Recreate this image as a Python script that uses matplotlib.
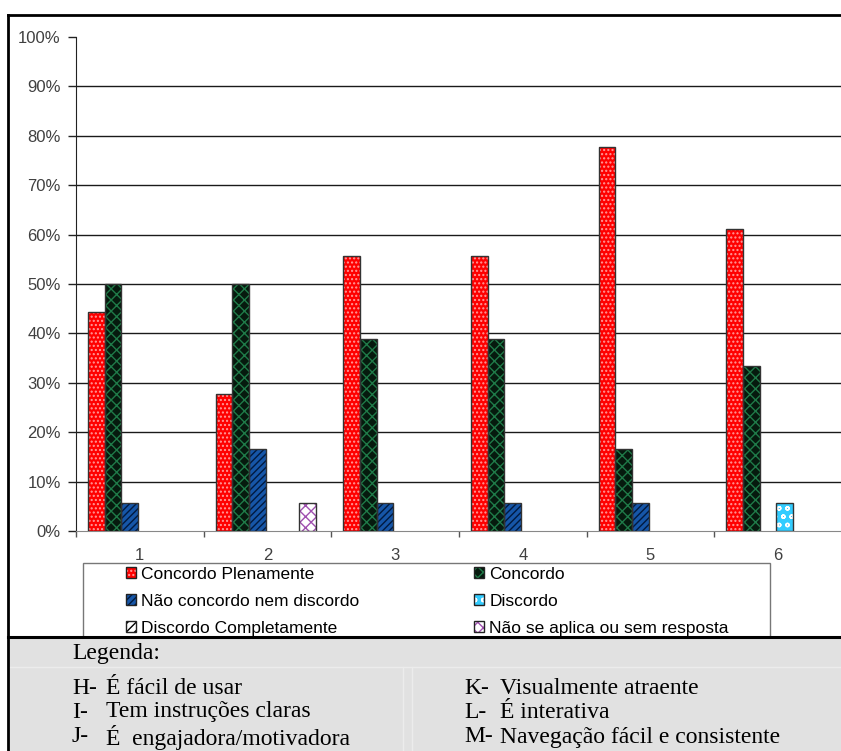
import matplotlib
matplotlib.use("Agg")
import matplotlib.pyplot as plt
from matplotlib.patches import Patch, Rectangle
from matplotlib.lines import Line2D
import numpy as np

# categories on the x axis
categorias = ["1", "2", "3", "4", "5", "6"]

# percent of answers per category
concordo_plenamente = [44.4, 27.8, 55.6, 55.6, 77.8, 61.1]
concordo = [50.0, 50.0, 38.9, 38.9, 16.7, 33.3]
nao_concordo_nem_discordo = [5.6, 16.7, 5.6, 5.6, 5.6, 0.0]
discordo = [0.0, 0.0, 0.0, 0.0, 0.0, 5.6]
discordo_completamente = [0.0, 0.0, 0.0, 0.0, 0.0, 0.0]
nao_se_aplica = [0.0, 5.6, 0.0, 0.0, 0.0, 0.0]

series_nomes = ["Concordo Plenamente", "Concordo", "Não concordo nem discordo",
                "Discordo", "Discordo Completamente", "Não se aplica ou sem resposta"]
series = [concordo_plenamente, concordo, nao_concordo_nem_discordo,
          discordo, discordo_completamente, nao_se_aplica]

yticks = [0, 10, 20, 30, 40, 50, 60, 70, 80, 90, 100]

legenda_esq = [("H-", "É fácil de usar"), ("I-", "Tem instruções claras"),
               ("J-", "É  engajadora/motivadora")]
legenda_dir = [("K-", "Visualmente atraente"), ("L-", "É interativa"),
               ("M-", "Navegação fácil e consistente")]

# face colour, hatch, hatch colour
estilos = [
    ("#ff0000", "....", "#ff9a9a"),
    ("#061a0e", "xxx", "#1f7a48"),
    ("#1656a8", "/////", "#001a40"),
    ("#33ccff", "oo", "#ffffff"),
    ("#ffffff", "////", "#000000"),
    ("#ffffff", "xxx", "#a050b0"),
]

plt.rcParams["font.family"] = ["Liberation Sans", "DejaVu Sans"]
plt.rcParams["hatch.linewidth"] = 1.0

W, H = 841, 751
fig = plt.figure(figsize=(W / 100, H / 100), dpi=100)
fig.patch.set_facecolor("white")

def fx(px):
    return px / W

def fy(py):
    return 1 - py / H

ax = fig.add_axes([fx(76), fy(531), 766 / W, 494 / H])

x = np.arange(len(categorias))
bw = 0.1308
start = -0.5 + 12 / 127.7
handles = []
for i, (vals, nome) in enumerate(zip(series, series_nomes)):
    face, hatch, hcol = estilos[i]
    pos = x + start + i * bw
    ax.bar(pos, vals, width=bw, align="edge", color=face, edgecolor=hcol,
           hatch=hatch, linewidth=0, zorder=3)
    lw = [1.0 if v > 0 else 0 for v in vals]
    ax.bar(pos, vals, width=bw, align="edge", fill=False, edgecolor="#333333",
           linewidth=lw, zorder=4)
    p1 = Patch(facecolor=face, edgecolor=hcol, hatch=hatch, linewidth=0)
    p2 = Patch(facecolor="none", edgecolor="#222222", linewidth=1)
    handles.append((p1, p2))

ax.set_xlim(-0.5, 5.5)
ax.set_ylim(0, 100)
for v in yticks[1:-1]:
    ax.axhline(v, color="#1a1a1a", linewidth=1, zorder=1)

ax.set_yticks(yticks)
ax.set_yticklabels(["%d%%" % v for v in yticks])
ax.set_xticks(np.arange(-0.5, 6, 1))
ax.set_xticklabels([])
ax.set_xticks(x, minor=True)
ax.set_xticklabels(categorias, minor=True)
ax.tick_params(axis="y", direction="out", length=6, width=1, pad=5,
               labelsize=12, labelcolor="#404040", color="#222222")
ax.tick_params(axis="x", which="major", direction="out", length=4, width=1,
               color="#555555")
ax.tick_params(axis="x", which="minor", length=0, pad=12, labelsize=12,
               labelcolor="#404040")
for s in ["top", "right"]:
    ax.spines[s].set_visible(False)
ax.spines["left"].set_color("#222222")
ax.spines["bottom"].set_color("#888888")

# legend box
fig.add_artist(Rectangle((fx(83), fy(660)), fx(770) - fx(83), fy(563) - fy(660),
                         transform=fig.transFigure, facecolor="white",
                         edgecolor="#777777", linewidth=1, zorder=4))
order = [0, 2, 4, 1, 3, 5]
leg = fig.legend([handles[k] for k in order], [series_nomes[k] for k in order],
                 ncol=2, loc="upper left", bbox_to_anchor=(fx(126), fy(567)),
                 frameon=False, fontsize=12.5, handlelength=0.58,
                 handleheight=0.58, handletextpad=0.3, labelspacing=0.68,
                 columnspacing=6.6, borderpad=0, borderaxespad=0)
leg.set_zorder(5)

# outer frame
fig.add_artist(Line2D([fx(8), fx(8)], [fy(15), 0], transform=fig.transFigure,
                      color="black", linewidth=2, zorder=20))
fig.add_artist(Line2D([fx(8), 1], [fy(15), fy(15)], transform=fig.transFigure,
                      color="black", linewidth=2, zorder=20))

# grey caption area
fig.add_artist(Rectangle((fx(8), 0), 1 - fx(8), fy(637), transform=fig.transFigure,
                         facecolor="#e1e1e1", edgecolor="none", zorder=10))
fig.add_artist(Line2D([fx(8), 1], [fy(637), fy(637)], transform=fig.transFigure,
                      color="black", linewidth=2.2, zorder=12))
fig.add_artist(Line2D([fx(9), 1], [fy(667), fy(667)], transform=fig.transFigure,
                      color="#ececec", linewidth=1, zorder=11))
for xp in [403, 412]:
    fig.add_artist(Line2D([fx(xp), fx(xp)], [fy(667), 0], transform=fig.transFigure,
                          color="#ececec", linewidth=1, zorder=11))

serif = ["Liberation Serif", "DejaVu Serif"]
fs = 17
fig.text(fx(72), fy(654), "Legenda:", family=serif, fontsize=fs, va="center",
         zorder=13)
linhas_y = [688, 712, 737]
for (k, t), yy in zip(legenda_esq, linhas_y):
    fig.text(fx(72), fy(yy), k, family=serif, fontsize=fs, va="center", zorder=13)
    fig.text(fx(106), fy(yy), t, family=serif, fontsize=fs, va="center", zorder=13)
for (k, t), yy in zip(legenda_dir, linhas_y):
    fig.text(fx(464), fy(yy), k, family=serif, fontsize=fs, va="center", zorder=13)
    fig.text(fx(500), fy(yy), t, family=serif, fontsize=fs, va="center", zorder=13)

fig.savefig("out.png", dpi=100)
